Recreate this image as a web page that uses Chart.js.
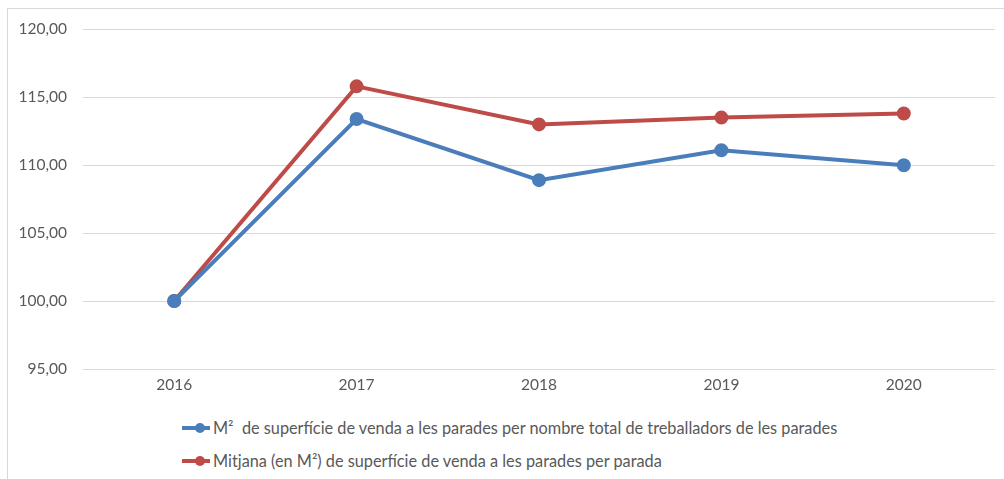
<!DOCTYPE html>
<html>
<head>
<meta charset="utf-8">
<script src="https://cdn.jsdelivr.net/npm/chart.js@4"></script>
<style>
  body { margin: 0; background: #fff; }
  #frame { position: absolute; left: 7px; top: 8px; width: 997px; height: 471px;
           border-top: 1px solid #d9d9d9; border-left: 1px solid #d9d9d9; }
  #wrap { position: absolute; left: 0; top: -5px; width: 996px; height: 405px; }
  #legend { position: absolute; left: 174px; top: 402px; font-family: Lato, sans-serif;
            font-size: 16.3px; color: #595959; white-space: pre; }
  .item { display: flex; align-items: center; height: 33px; }
  .mark { position: relative; width: 28px; height: 4px; margin-right: 3px; }
  .mark span { position: absolute; left: 13px; top: -3px; width: 10px; height: 10px; border-radius: 50%; }
</style>
</head>
<body>
<div id="frame">
  <div id="wrap"><canvas id="chart"></canvas></div>
  <div id="legend"></div>
</div>
<script>
// dades llegides del gràfic
var anys = ['2016', '2017', '2018', '2019', '2020'];
var m2PerTreballador = [100.00, 113.40, 108.90, 111.10, 110.00];
var m2PerParada = [100.00, 115.80, 113.00, 113.50, 113.80];
var etiquetes = ['M\u00b2  de superfície de venda a les parades per nombre total de treballadors de les parades',
                 'Mitjana (en M\u00b2) de superfície de venda a les parades per parada'];
var colors = ['#4a7ebb', '#be4b48'];

var ctx = document.getElementById('chart').getContext('2d');
var myChart = new Chart(ctx, {
    type: 'line',
    data: {
        labels: anys,
        datasets: [{
            label: etiquetes[0],
            data: m2PerTreballador,
            borderColor: colors[0],
            backgroundColor: colors[0],
            borderWidth: 4,
            pointRadius: 5,
            pointHoverRadius: 5
        }, {
            label: etiquetes[1],
            data: m2PerParada,
            borderColor: colors[1],
            backgroundColor: colors[1],
            borderWidth: 4,
            pointRadius: 5,
            pointHoverRadius: 5
        }]
    },
    options: {
        responsive: true,
        maintainAspectRatio: false,
        animation: false,
        layout: { padding: { top: 0, right: 6, bottom: 0, left: 0 } },
        plugins: { legend: { display: false }, tooltip: { enabled: false } },
        scales: {
            x: {
                offset: true,
                grid: { display: false, drawTicks: false },
                border: { display: false },
                ticks: { color: '#595959', font: { family: 'Lato', size: 15.5 }, padding: 7 },
                afterFit: function (s) { s.height = 40; }
            },
            y: {
                min: 95,
                max: 120,
                ticks: {
                    stepSize: 5,
                    color: '#595959',
                    font: { family: 'Lato', size: 15.5 },
                    padding: 16,
                    callback: function (v) { return v.toFixed(2).replace('.', ','); }
                },
                grid: { color: '#d9d9d9', lineWidth: 1, drawTicks: false },
                border: { display: false },
                afterFit: function (s) { s.width = 75; }
            }
        }
    }
});

var legend = document.getElementById('legend');
etiquetes.forEach(function (t, i) {
    var row = document.createElement('div');
    row.className = 'item';
    row.innerHTML = '<div class="mark" style="background:' + colors[i] + '"><span style="background:' + colors[i] + '"></span></div>';
    var txt = document.createElement('span');
    txt.textContent = t;
    row.appendChild(txt);
    legend.appendChild(row);
});
</script>
</body>
</html>
